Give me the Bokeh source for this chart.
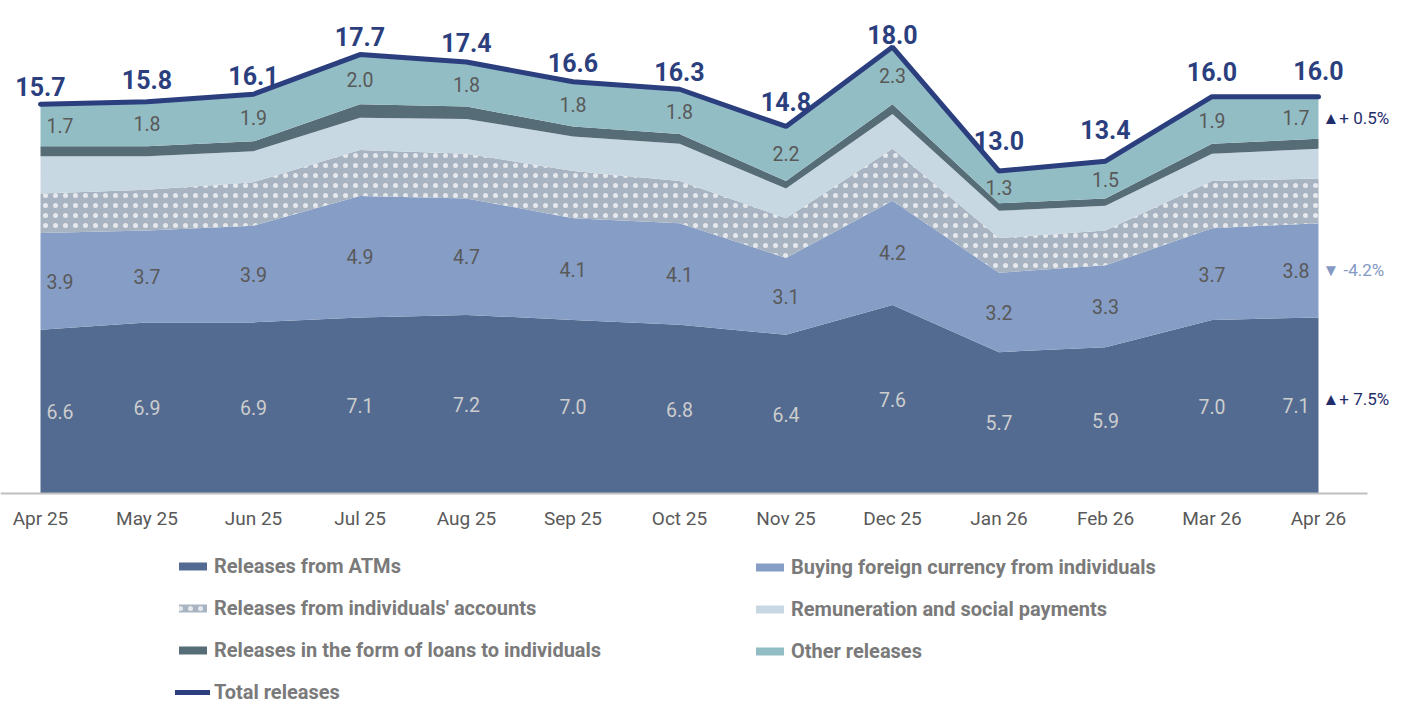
from bokeh.plotting import figure
from bokeh.models import ColumnDataSource, Legend, LegendItem, Label, Range1d
from bokeh.embed import file_html
from bokeh.resources import INLINE
from bokeh.core.properties import value
import numpy as np

months = ["Apr 25", "May 25", "Jun 25", "Jul 25", "Aug 25", "Sep 25", "Oct 25",
          "Nov 25", "Dec 25", "Jan 26", "Feb 26", "Mar 26", "Apr 26"]
atm = [6.6, 6.9, 6.9, 7.1, 7.2, 7.0, 6.8, 6.4, 7.6, 5.7, 5.9, 7.0, 7.1]
forex = [3.9, 3.7, 3.9, 4.9, 4.7, 4.1, 4.1, 3.1, 4.2, 3.2, 3.3, 3.7, 3.8]
accounts = [1.6, 1.65, 1.75, 1.85, 1.8, 1.9, 1.7, 1.6, 2.1, 1.4, 1.4, 1.9, 1.8]
remun = [1.5, 1.35, 1.25, 1.3, 1.4, 1.4, 1.5, 1.2, 1.4, 1.1, 1.0, 1.1, 1.2]
loans = [0.4, 0.4, 0.4, 0.55, 0.5, 0.4, 0.4, 0.3, 0.4, 0.3, 0.3, 0.4, 0.4]
other = [1.7, 1.8, 1.9, 2.0, 1.8, 1.8, 1.8, 2.2, 2.3, 1.3, 1.5, 1.9, 1.7]
total = [15.7, 15.8, 16.1, 17.7, 17.4, 16.6, 16.3, 14.8, 18.0, 13.0, 13.4, 16.0, 16.0]
series_names = ["Releases from ATMs", "Buying foreign currency from individuals",
                "Releases from individuals' accounts", "Remuneration and social payments",
                "Releases in the form of loans to individuals", "Other releases"]
total_name = "Total releases"
change_labels = ["\u25b2+ 0.5%", "\u25bc -4.2%", "\u25b2+ 7.5%"]

# style: pixel lift of each total label above its point
total_label_lift = [18, 22, 19, 18, 19, 19, 18, 25, 13, 31, 32, 25, 26]

FONT = "Roboto"
colors = ["#536b91", "#869dc6", "#a9b4c2", "#c8d8e2", "#566c76", "#93bdc5"]
total_color = "#2b3f7e"

n = len(months)
x = np.arange(n)
layers = np.array([atm, forex, accounts, remun, loans, other])
tops = np.cumsum(layers, axis=0)
bottoms = np.vstack([np.zeros(n), tops[:-1]])

W, H = 1391, 704
X0PX, DXPX = 40.0, 106.5      # pixel of first category, pixels per category
Y0PX, DYPX = 493.0, 24.8      # pixel of zero line, pixels per unit
x_range = Range1d(-X0PX / DXPX, (W - X0PX) / DXPX)
y_range = Range1d(-(H - Y0PX) / DYPX, Y0PX / DYPX)

p = figure(width=W, height=H, x_range=x_range, y_range=y_range,
           output_backend="svg", toolbar_location=None,
           x_axis_location=None, y_axis_location=None,
           min_border_left=0, min_border_right=0, min_border_top=0, min_border_bottom=0)
p.outline_line_color = None
p.xgrid.visible = False
p.ygrid.visible = False
p.background_fill_color = "white"

renderers = []
for i in range(6):
    src = ColumnDataSource(dict(x=x, y1=bottoms[i], y2=tops[i]))
    kw = {}
    if i == 2:
        kw = dict(hatch_pattern="dot", hatch_color="white", hatch_scale=10,
                  hatch_weight=0.1, hatch_alpha=0.7)
    r = p.varea(x="x", y1="y1", y2="y2", source=src, fill_color=colors[i], **kw)
    renderers.append(r)

tot = p.line(x, total, line_color=total_color, line_width=5, line_cap="round")

# baseline (axis line)
p.segment(x0=[x_range.start], x1=[(1367 - X0PX) / DXPX], y0=[0], y1=[0],
          line_color="#bfbfbf", line_width=2)

# x tick labels
p.text(x=x, y=np.zeros(n), text=months, text_align="center", text_baseline="top",
       y_offset=13, text_color="#595959", text_font=value(FONT), text_font_size="19px")

# band labels
lab_x, lab_y, lab_t, lab_c, lab_a, lab_o = [], [], [], [], [], []
for li, col in [(0, "#cdcdcd"), (1, "#595959"), (5, "#595959")]:
    vals = layers[li]
    for j in range(n):
        lab_x.append(j)
        lab_y.append((bottoms[li][j] + tops[li][j]) / 2)
        lab_t.append(f"{vals[j]:.1f}")
        lab_c.append(col)
        if j == 0:
            lab_a.append("left"); lab_o.append(6)
        elif j == n - 1:
            lab_a.append("right"); lab_o.append(-9)
        else:
            lab_a.append("center"); lab_o.append(0)
lsrc = ColumnDataSource(dict(x=lab_x, y=lab_y, t=lab_t, c=lab_c, a=lab_a, o=lab_o))
p.text(x="x", y="y", text="t", text_color="c", text_align="a", x_offset="o",
       text_baseline="middle", text_font=value(FONT), text_font_size="19.5px", source=lsrc)

# total labels
tsrc = ColumnDataSource(dict(x=x, y=total, t=[f"{v:.1f}" for v in total],
                             off=[-v for v in total_label_lift]))
p.text(x="x", y="y", text="t", source=tsrc, text_color=total_color, text_align="center",
       text_baseline="alphabetic", y_offset="off", text_font=value(FONT),
       text_font_size="25px", text_font_style="bold")

# right-hand change annotations
ann_colors = ["#1f2d6b", "#8499c4", "#1f2d6b"]
ann_layers = [5, 1, 0]
ann_dy = [0, 0, 6]
for txt, c, li, dy in zip(change_labels, ann_colors, ann_layers, ann_dy):
    ymid = (bottoms[li][-1] + tops[li][-1]) / 2
    p.add_layout(Label(x=n - 1, y=ymid, x_offset=4, y_offset=dy, text=txt, text_color=c,
                       text_baseline="middle", text_font=FONT, text_font_size="17px"))


def make_legend(items, loc):
    return Legend(items=items, location=loc, orientation="vertical",
                  glyph_width=35, glyph_height=10, label_height=10, spacing=18,
                  label_standoff=4, padding=0, margin=0,
                  border_line_color=None, background_fill_alpha=0,
                  label_text_font=FONT, label_text_font_size="20px",
                  label_text_font_style="bold", label_text_color="#7a7a7a")


leg1 = make_legend([LegendItem(label=series_names[0], renderers=[renderers[0]]),
                    LegendItem(label=series_names[2], renderers=[renderers[2]]),
                    LegendItem(label=series_names[4], renderers=[renderers[4]]),
                    LegendItem(label=total_name, renderers=[tot])], (175, 0.5))
leg2 = make_legend([LegendItem(label=series_names[1], renderers=[renderers[1]]),
                    LegendItem(label=series_names[3], renderers=[renderers[3]]),
                    LegendItem(label=series_names[5], renderers=[renderers[5]])], (752, 41.5))
p.add_layout(leg1)
p.add_layout(leg2)

open("out.html", "w").write(file_html(p, INLINE))
